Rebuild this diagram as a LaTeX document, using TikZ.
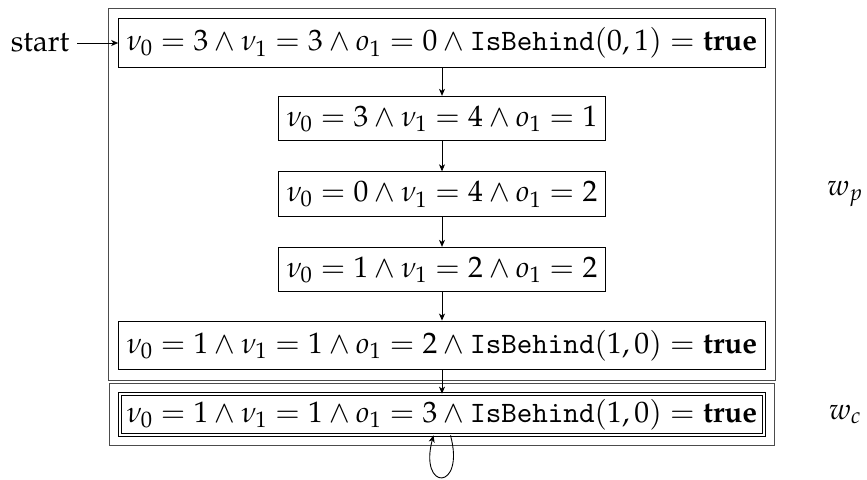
\documentclass[tikz,border=0pt]{standalone}
\usepackage[T1]{fontenc}
\usepackage{mathpazo}
\font\bigcmtt=cmtt10 at 29.6pt
\newcommand{\cmttword}[1]{\mbox{\bigcmtt #1}}
\usetikzlibrary{arrows.meta,fit}
\begin{document}
\begin{tikzpicture}[x=1pt,y=-1pt,
  every node/.style={font=\fontsize{29.6}{36}\selectfont},
  stbox/.style={draw,rectangle,line width=1pt,inner xsep=8pt,inner ysep=9pt},
  accbox/.style={draw,rectangle,line width=0.8pt,double,double distance=2pt,inner xsep=7pt,inner ysep=5pt},
  regionbox/.style={draw=black!70,rectangle,line width=1pt,inner sep=10pt},
  arr/.style={-{Stealth[length=7pt,width=6pt,inset=2pt]},line width=0.9pt},
  wlabel/.style={inner sep=0pt}]
\useasboundingbox (0,0) rectangle (867,479);
\node[stbox] (s1) at (442,43) {$\nu_0 = 3 \land \nu_1 = 3 \land o_1 = 0 \land \cmttword{IsBehind}(0,1) = \textbf{true}$};
\node[stbox] (s2) at (442,118.5) {$\nu_0 = 3 \land \nu_1 = 4 \land o_1 = 1$};
\node[stbox] (s3) at (442,194) {$\nu_0 = 0 \land \nu_1 = 4 \land o_1 = 2$};
\node[stbox] (s4) at (442,269.5) {$\nu_0 = 1 \land \nu_1 = 2 \land o_1 = 2$};
\node[stbox] (s5) at (442,345.5) {$\nu_0 = 1 \land \nu_1 = 1 \land o_1 = 2 \land \cmttword{IsBehind}(1,0) = \textbf{true}$};
\node[accbox] (s6) at (442,414.5) {$\nu_0 = 1 \land \nu_1 = 1 \land o_1 = 3 \land \cmttword{IsBehind}(1,0) = \textbf{true}$};
\node[inner sep=8pt] (startlbl) at (40,43) {start};
\node[regionbox,fit=(s1)(s5)] (wp) {};
\node[regionbox,fit=(s6)] (wc) {};
\node[wlabel] (lp) at (845,194) {$w_p$};
\node[wlabel] (lc) at (845,414.5) {$w_c$};
\draw[arr] (startlbl) -- (s1);
\draw[arr] (s1) -- (s2);
\draw[arr] (s2) -- (s3);
\draw[arr] (s3) -- (s4);
\draw[arr] (s4) -- (s5);
\draw[arr] (s5) -- (s6);
\coordinate (loopout) at ([xshift=8.5pt]s6.south);
\coordinate (loopin) at ([xshift=-8.5pt]s6.south);
\draw[arr] (loopout) .. controls +(75:58) and +(105:58) .. (loopin);
\end{tikzpicture}
\end{document}
